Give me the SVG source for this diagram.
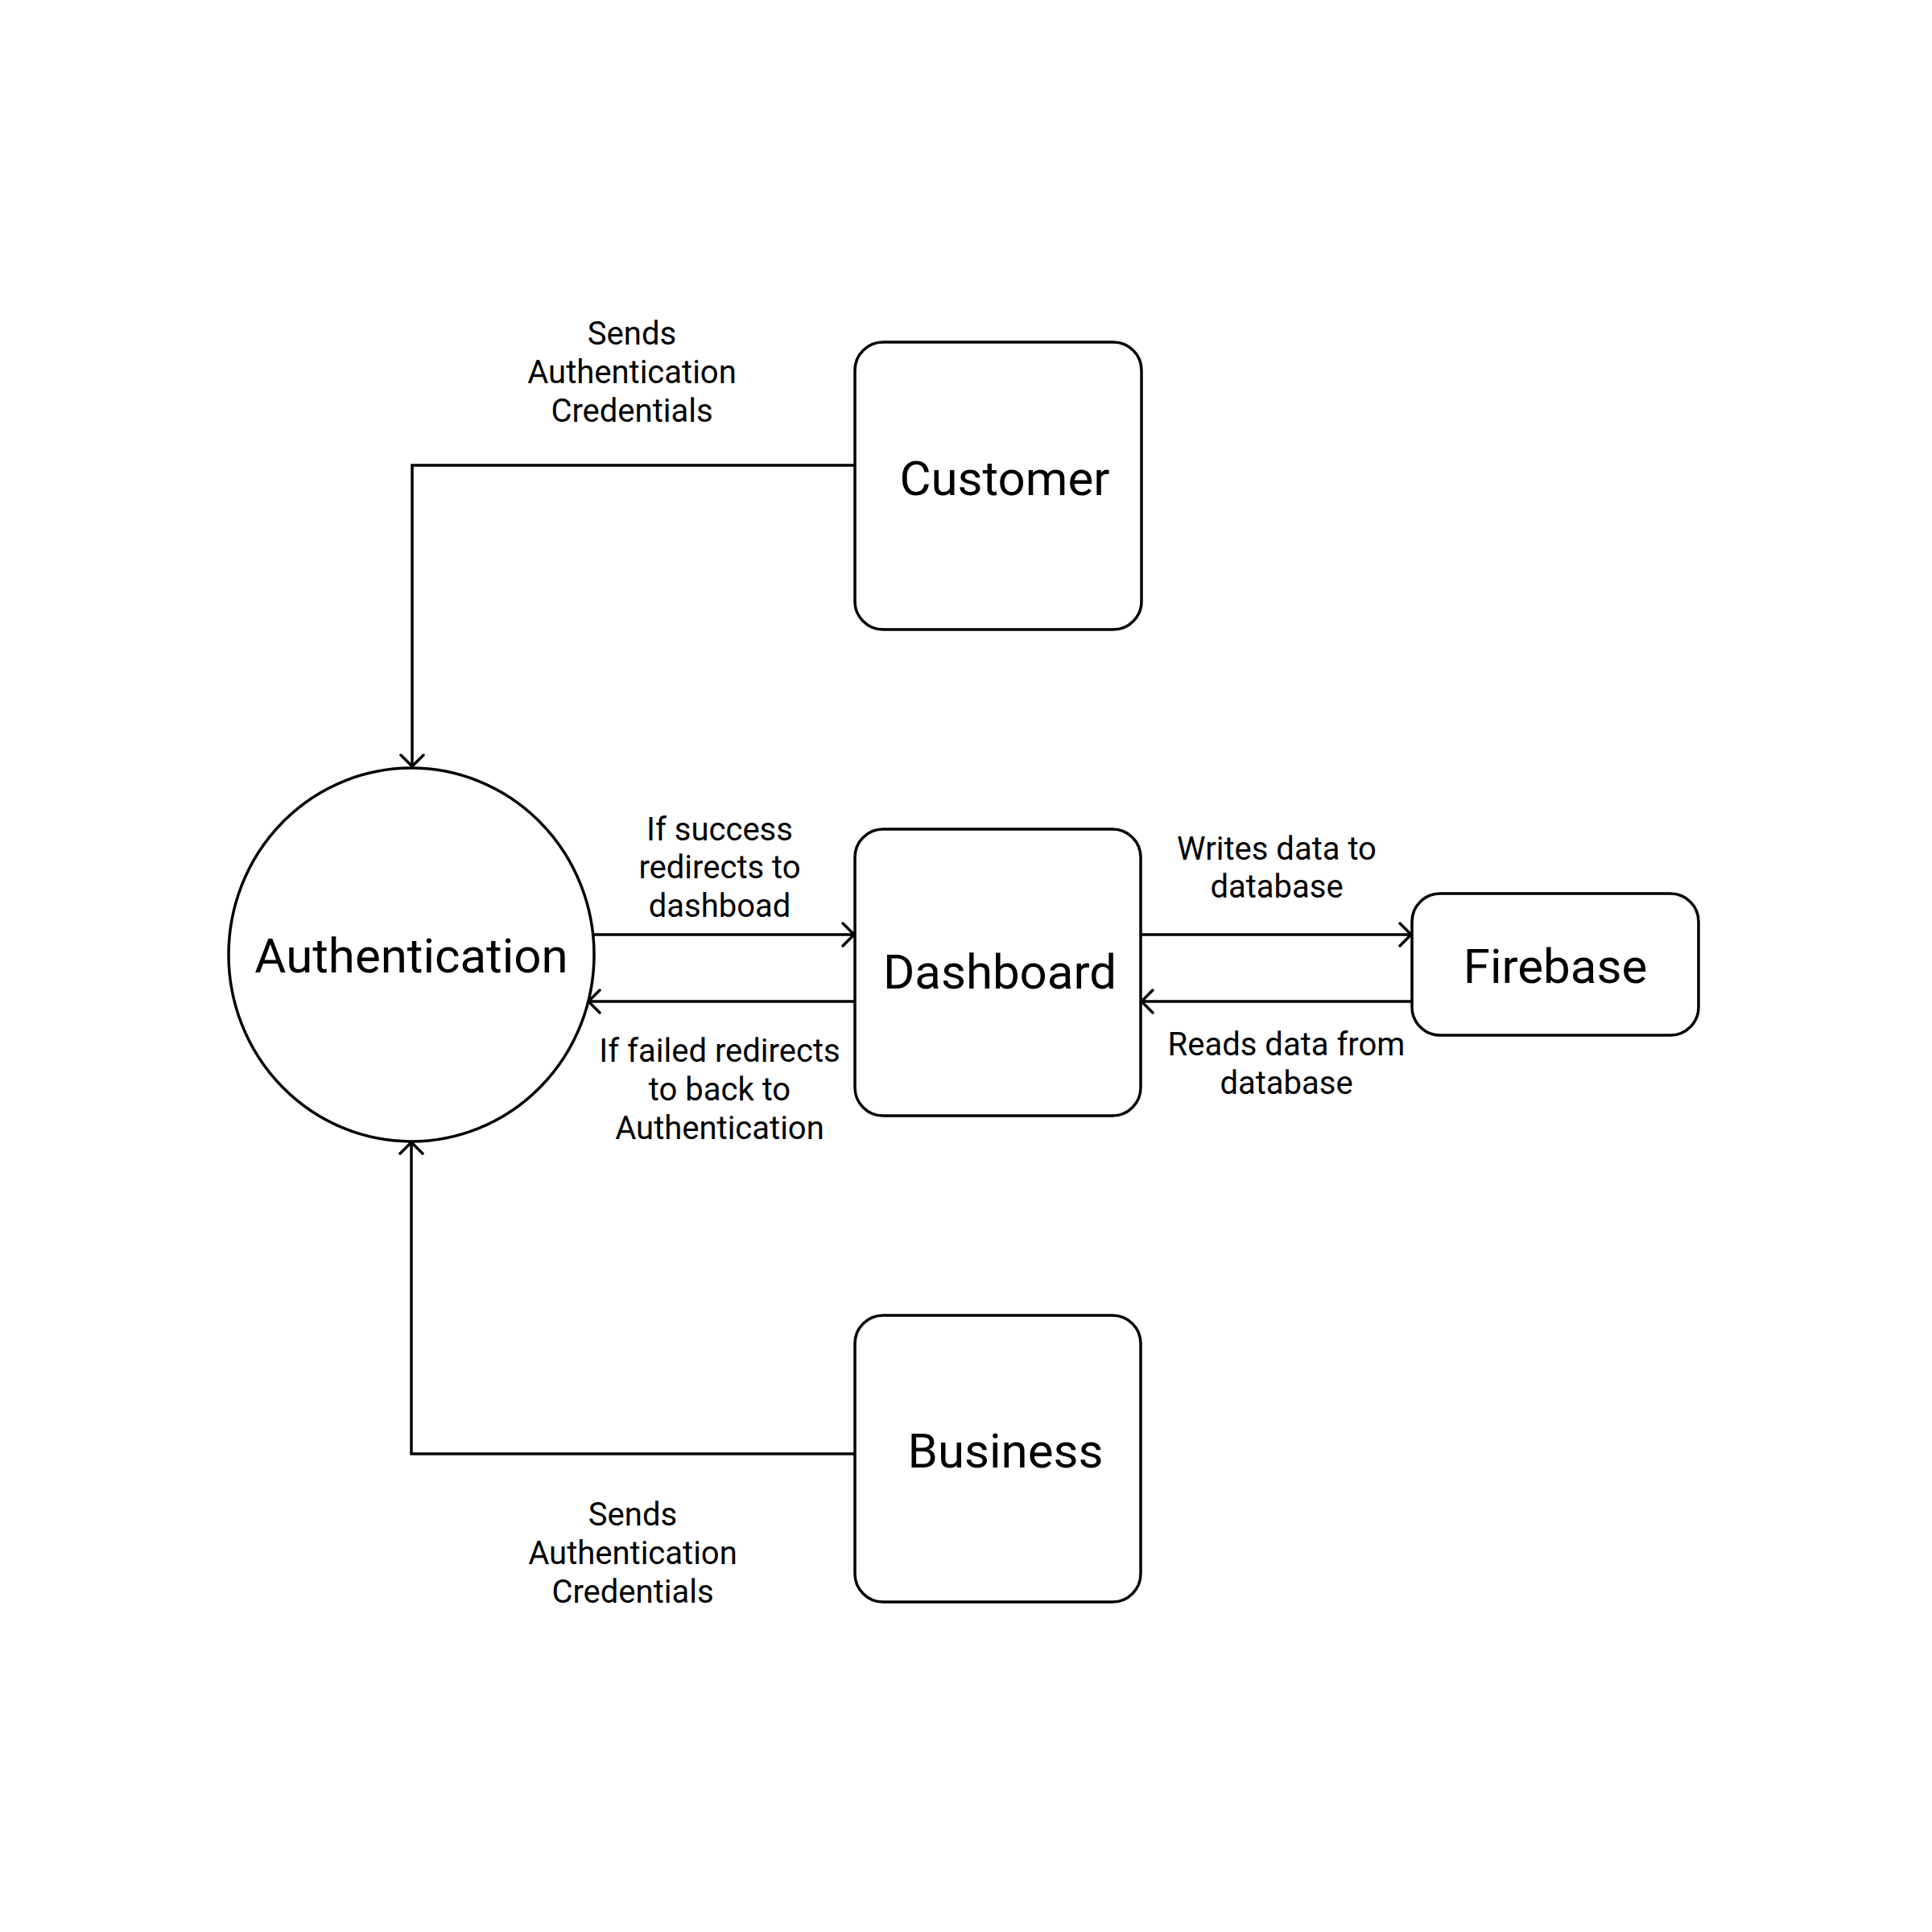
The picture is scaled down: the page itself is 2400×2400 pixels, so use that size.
<svg xmlns="http://www.w3.org/2000/svg" width="2400" height="2400" viewBox="0 0 2400 2400">
<style>
.shape{fill:#fff;stroke:#000;stroke-width:3.5}
.edge{fill:none;stroke:#000;stroke-width:3.5}
.node-label{font-family:Roboto,"Liberation Sans",sans-serif;font-size:60px;fill:#000;text-anchor:middle}
.edge-label{font-family:Roboto,"Liberation Sans",sans-serif;font-size:40px;fill:#000;text-anchor:middle}
</style>
<defs>
<marker id="arrow" markerUnits="userSpaceOnUse" markerWidth="40" markerHeight="40" viewBox="-20 -20 40 40" refX="0" refY="0" orient="auto">
<path d="M -14 -14 L 0 0 L -14 14" fill="none" stroke="#000" stroke-width="3.5" stroke-linecap="round" stroke-linejoin="round"/>
</marker>
</defs>
<rect width="2400" height="2400" fill="#fff"/>
<g id="connectors">
<path class="edge" d="M 1062 578 H 512 V 952" marker-end="url(#arrow)"/>
<path class="edge" d="M 1067 1806 H 511 V 1419" marker-end="url(#arrow)"/>
<path class="edge" d="M 738 1161 H 1061" marker-end="url(#arrow)"/>
<path class="edge" d="M 1062 1244 H 731" marker-end="url(#arrow)"/>
<path class="edge" d="M 1417 1161 H 1753" marker-end="url(#arrow)"/>
<path class="edge" d="M 1754 1244 H 1418" marker-end="url(#arrow)"/>
<text class="edge-label"><tspan x="785" y="428">Sends</tspan><tspan x="785" y="476">Authentication</tspan><tspan x="785" y="524">Credentials</tspan></text>
<text class="edge-label"><tspan x="786" y="1895">Sends</tspan><tspan x="786" y="1943">Authentication</tspan><tspan x="786" y="1991">Credentials</tspan></text>
<text class="edge-label"><tspan x="894" y="1044">If success</tspan><tspan x="894" y="1091">redirects to</tspan><tspan x="894" y="1139">dashboad</tspan></text>
<text class="edge-label"><tspan x="894" y="1319">If failed redirects</tspan><tspan x="894" y="1367">to back to</tspan><tspan x="894" y="1415">Authentication</tspan></text>
<text class="edge-label"><tspan x="1586" y="1068">Writes data to</tspan><tspan x="1586" y="1115">database</tspan></text>
<text class="edge-label"><tspan x="1598" y="1311">Reads data from</tspan><tspan x="1598" y="1359">database</tspan></text>
</g>
<g id="node-customer">
<rect class="shape" x="1062" y="425" width="356" height="357" rx="35" ry="35"/>
<text class="node-label" x="1248" y="615">Customer</text>
</g>
<g id="node-authentication">
<ellipse class="shape" cx="511" cy="1186" rx="227" ry="232"/>
<text class="node-label" x="511" y="1208">Authentication</text>
</g>
<g id="node-dashboard">
<rect class="shape" x="1062" y="1030" width="355" height="356" rx="35" ry="35"/>
<text class="node-label" x="1242" y="1228">Dashboard</text>
</g>
<g id="node-firebase">
<rect class="shape" x="1754" y="1110" width="356" height="176" rx="35" ry="35"/>
<text class="node-label" x="1932" y="1221">Firebase</text>
</g>
<g id="node-business">
<rect class="shape" x="1062" y="1634" width="355" height="356" rx="35" ry="35"/>
<text class="node-label" x="1249" y="1823">Business</text>
</g>
</svg>
